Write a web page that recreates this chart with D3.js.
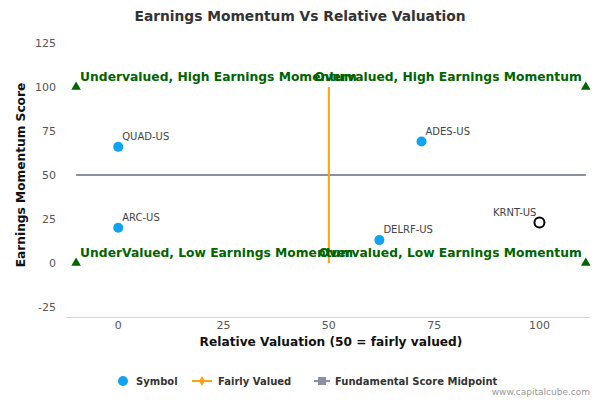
<!DOCTYPE html><html><head><meta charset="utf-8"><script src="https://cdn.jsdelivr.net/npm/d3@7"></script>
<style>body{margin:0;background:#fff}text{font-family:"DejaVu Sans",sans-serif}</style></head><body><svg id="c" width="600" height="400"></svg>
<script>
const symbols=["QUAD-US","ARC-US","ADES-US","DELRF-US","KRNT-US"];
const relVal=[0,0,72,62,100];
const momentum=[66,20,69,13,23];
const highlight=[false,false,false,false,true];
const xTicks=[0,25,50,75,100];
const yTicks=[-25,0,25,50,75,100,125];
const corners=[[-10,100],[111,100],[-10,0],[111,0]];
const quadLabels=[["Undervalued, High Earnings Momentum",-10,100,"start"],["Overvalued, High Earnings Momentum",111,100,"end"],["UnderValued, Low Earnings Momentum",-10,0,"start"],["Overvalued, Low Earnings Momentum",111,0,"end"]];
const svg=d3.select("#c");
const x=d3.scaleLinear().domain([-12.4,112]).range([66,590]);
const y=d3.scaleLinear().domain([-25,125]).range([307,43]);
svg.append("text").attr("x",300).attr("y",21).attr("text-anchor","middle").style("font-size","13.8px").style("font-weight","bold").attr("fill","#333").text("Earnings Momentum Vs Relative Valuation");
yTicks.forEach(t=>{svg.append("text").attr("x",56).attr("y",y(t)+4).attr("text-anchor","end").style("font-size","11px").attr("fill","#555").text(t);});
xTicks.forEach(t=>{svg.append("text").attr("x",x(t)).attr("y",329).attr("text-anchor","middle").style("font-size","11px").attr("fill","#555").text(t);});
svg.append("line").attr("x1",66).attr("x2",590).attr("y1",317.5).attr("y2",317.5).attr("stroke","#ccd6eb");
svg.append("text").attr("x",331).attr("y",346).attr("text-anchor","middle").style("font-size","12.2px").style("font-weight","bold").attr("fill","#111").text("Relative Valuation (50 = fairly valued)");
svg.append("text").attr("transform",`translate(25,175) rotate(-90)`).attr("text-anchor","middle").style("font-size","12.2px").style("font-weight","bold").attr("fill","#111").text("Earnings Momentum Score");
svg.append("line").attr("x1",x(-10)).attr("x2",x(111)).attr("y1",y(50)).attr("y2",y(50)).attr("stroke","#8a8fa3").attr("stroke-width",2);
svg.append("line").attr("x1",x(50)).attr("x2",x(50)).attr("y1",y(0)).attr("y2",y(100)).attr("stroke","#f7a21b").attr("stroke-width",2);
corners.forEach(c=>svg.append("path").attr("d",d3.symbol(d3.symbolTriangle,40)()).attr("transform",`translate(${x(c[0])},${y(c[1])})`).attr("fill","#006400"));
quadLabels.forEach(q=>svg.append("text").attr("x",x(q[1])+(q[3]=="start"?4:-4)).attr("y",y(q[2])-6).attr("text-anchor",q[3]).style("font-size","12.3px").style("font-weight","bold").attr("fill","#006400").text(q[0]));
symbols.forEach((s,i)=>{
 svg.append("circle").attr("cx",x(relVal[i])).attr("cy",y(momentum[i])).attr("r",5).attr("fill",highlight[i]?"#fff":"#0fa3f0").attr("stroke",highlight[i]?"#000":"none").attr("stroke-width",2);
 svg.append("text").attr("x",x(relVal[i])+(highlight[i]?-3:4)).attr("y",y(momentum[i])-7).attr("text-anchor",highlight[i]?"end":"start").style("font-size","10px").attr("fill","#444").text(s);
});
const lg=svg.append("g");
lg.append("circle").attr("cx",123).attr("cy",381).attr("r",5).attr("fill","#0fa3f0");
lg.append("text").attr("x",136).attr("y",385).style("font-size","10px").style("font-weight","bold").attr("fill","#333").text("Symbol");
lg.append("line").attr("x1",192).attr("x2",212).attr("y1",381).attr("y2",381).attr("stroke","#f7a21b").attr("stroke-width",2);
lg.append("path").attr("d",d3.symbol(d3.symbolDiamond,30)()).attr("transform","translate(202,381)").attr("fill","#f7a21b");
lg.append("text").attr("x",218).attr("y",385).style("font-size","10px").style("font-weight","bold").attr("fill","#333").text("Fairly Valued");
lg.append("line").attr("x1",314).attr("x2",330).attr("y1",381).attr("y2",381).attr("stroke","#8a8fa3").attr("stroke-width",2);
lg.append("rect").attr("x",318).attr("y",377).attr("width",8).attr("height",8).attr("fill","#8a8fa3");
lg.append("text").attr("x",335).attr("y",385).style("font-size","10px").style("font-weight","bold").attr("fill","#333").text("Fundamental Score Midpoint");
svg.append("text").attr("x",590).attr("y",395).attr("text-anchor","end").style("font-size","9px").attr("fill","#999").text("www.capitalcube.com");
</script></body></html>
